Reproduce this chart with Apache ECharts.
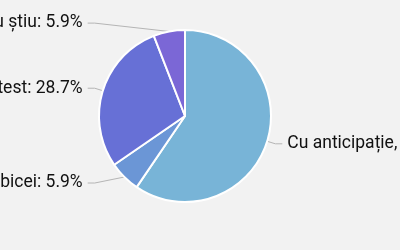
<!DOCTYPE html>
<html>
<head>
<meta charset="utf-8">
<script src="https://cdn.jsdelivr.net/npm/echarts@6/dist/echarts.min.js"></script>
<style>
html,body{margin:0;padding:0;background:#f2f2f2;}
#c{width:400px;height:250px;}
</style>
</head>
<body>
<div id="c"></div>
<script>
var categories = ["Cu anticipație, bucurie", "Ca de obicei", "Cu protest", "Nu știu"];
var values = [59.5, 5.9, 28.7, 5.9];
var colors = ["#78b4d7", "#6b96d6", "#6770d6", "#7b67d6"];

var chart = echarts.init(document.getElementById('c'));
chart.setOption({
  backgroundColor: '#f2f2f2',
  animation: false,
  color: colors,
  series: [{
    type: 'pie',
    center: [185, 116],
    radius: 86,
    startAngle: 90,
    clockwise: true,
    data: categories.map(function (n, i) { return { name: n, value: values[i] }; }),
    itemStyle: { borderColor: '#ffffff', borderWidth: 2 },
    label: {
      show: true,
      formatter: function (p) { return p.name + ': ' + p.value.toFixed(1) + '%'; },
      fontFamily: 'Roboto',
      fontSize: 17.5,
      color: '#111111',
      overflow: 'none',
      alignTo: 'labelLine',
      distanceToLabelLine: 5
    },
    labelLine: {
      show: true,
      length: 8.5,
      length2: 7,
      lineStyle: { color: '#b5b5b5', width: 1 }
    },
    labelLayout: function (p) {
      var pts = p.labelLinePoints;
      if (!pts || pts.length < 3) return {};
      var sign = pts[2][0] < pts[0][0] ? 1 : -1;
      var np = [pts[0].slice(), [pts[2][0] + sign * 7, pts[2][1]], pts[2].slice()];
      return { labelLinePoints: np };
    }
  }]
});
</script>
</body>
</html>
